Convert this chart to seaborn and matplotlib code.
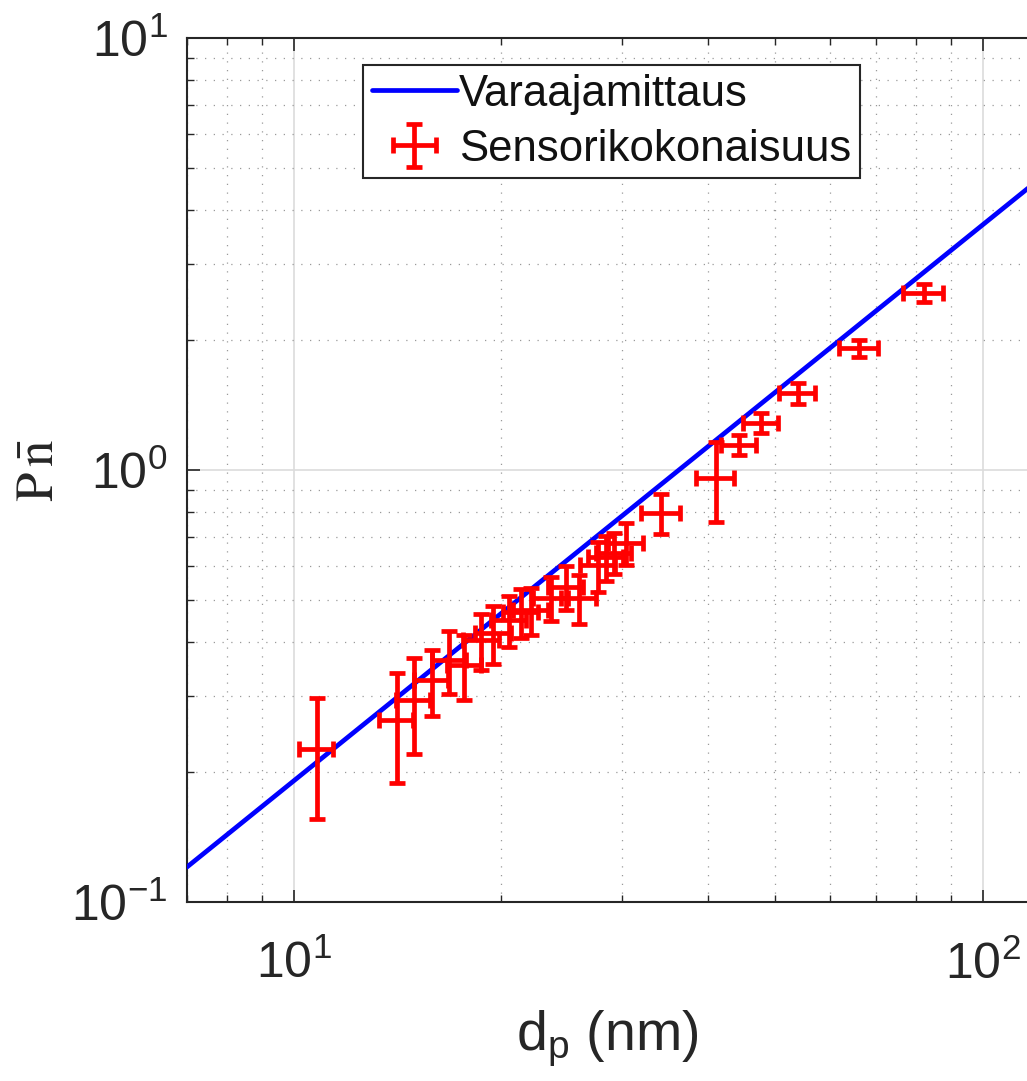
import numpy as np
import pandas as pd
import seaborn as sns
import matplotlib
matplotlib.use("Agg")
import matplotlib.pyplot as plt

# ---- data ----
line_d = [7.0, 120.0]
line_p = [0.1205, 4.67]

d_p = [10.80, 14.11, 14.93, 15.85, 16.83, 17.69, 18.73, 19.49, 20.56, 21.40,
       22.13, 23.65, 24.87, 25.97, 27.67, 28.42, 29.19, 30.38, 34.15, 41.0,
       44.3, 47.7, 53.9, 66.1, 82.1]
p_n = [0.226, 0.264, 0.294, 0.327, 0.363, 0.354, 0.404, 0.420, 0.450, 0.469,
       0.474, 0.506, 0.536, 0.506, 0.603, 0.629, 0.643, 0.678, 0.795, 0.958,
       1.143, 1.285, 1.507, 1.916, 2.569]
d_err = [0.62, 0.80, 0.85, 0.90, 0.95, 1.0, 1.1, 1.15, 1.2, 1.25,
         1.3, 1.4, 1.45, 1.5, 1.6, 1.65, 1.7, 1.8, 2.2, 2.6,
         2.6, 2.8, 3.2, 4.3, 5.5]
p_err = [0.070, 0.075, 0.074, 0.057, 0.060, 0.060, 0.060, 0.065, 0.060, 0.060,
         0.058, 0.059, 0.062, 0.065, 0.080, 0.075, 0.070, 0.075, 0.085, 0.200,
         0.060, 0.070, 0.085, 0.087, 0.120]

line_label = "Varaajamittaus"
pts_label = "Sensorikokonaisuus"

sns.set_style("ticks")
plt.rcParams['font.family'] = ['Liberation Sans', 'DejaVu Sans']
plt.rcParams['mathtext.fontset'] = 'custom'
plt.rcParams['mathtext.rm'] = 'Liberation Sans'
plt.rcParams['mathtext.it'] = 'Liberation Sans'
plt.rcParams['mathtext.default'] = 'regular'
plt.rcParams['axes.unicode_minus'] = False

fig = plt.figure(figsize=(10.27, 10.81), dpi=100)
ax = fig.add_axes([187/1027, 1-902/1081, (1027-187)/1027, (902-38)/1081])

df_line = pd.DataFrame({"d": line_d, "p": line_p})
sns.lineplot(data=df_line, x="d", y="p", ax=ax, color="#0000ff", lw=3.4,
             label=line_label, zorder=3)

ax.errorbar(d_p, p_n, xerr=d_err, yerr=p_err, fmt='none', ecolor="#ff0000",
            elinewidth=3.4, capsize=6.0, capthick=3.4, label=pts_label, zorder=4)

ax.set_xscale("log")
ax.set_yscale("log")
ax.set_xlim(7, 116)
ax.set_ylim(0.1, 10)

ax.set_xticks([10, 100])
ax.set_yticks([0.1, 1, 10])
ax.xaxis.set_minor_locator(matplotlib.ticker.LogLocator(base=10, subs=np.arange(2, 10)))
ax.yaxis.set_minor_locator(matplotlib.ticker.LogLocator(base=10, subs=np.arange(2, 10)))
ax.xaxis.set_minor_formatter(matplotlib.ticker.NullFormatter())
ax.yaxis.set_minor_formatter(matplotlib.ticker.NullFormatter())

ax.grid(which="major", color="#dcdcdc", lw=1.2, ls="-")
ax.grid(which="minor", color="#9a9a9a", lw=0.9, ls=(0, (1, 6)))
ax.set_axisbelow(True)

ax.tick_params(which="both", direction="in", top=True, right=False, colors="#262626")
ax.tick_params(which="major", length=9, width=1.2, labelsize=36)
ax.tick_params(axis="x", which="major", pad=28)
ax.tick_params(axis="y", which="major", pad=14)
ax.tick_params(which="minor", length=5, width=1.0)
for s in ax.spines.values():
    s.set_color("#262626")
    s.set_linewidth(1.5)
ax.spines["right"].set_visible(False)

ax.set_xlabel(r"$d_p$ (nm)", fontsize=40, color="#262626", labelpad=14)
ax.set_ylabel(r"$\mathrm{P\,\bar{n}}$", fontsize=38, color="#262626",
              family=['DejaVu Serif'], math_fontfamily='stix')
ax.yaxis.set_label_coords((64 - 187) / 840, 0.5)

leg = ax.legend(loc="upper left", bbox_to_anchor=(0.2095, 0.9688), borderaxespad=0,
                fontsize=31.5, frameon=True, fancybox=False, framealpha=1,
                edgecolor="#262626", handlelength=1.95, handletextpad=0.05,
                labelspacing=0.32, borderpad=0.2)
leg.get_frame().set_linewidth(1.5)
for t in leg.get_texts():
    t.set_color("#111111")

fig.savefig("out.png", dpi=100)
